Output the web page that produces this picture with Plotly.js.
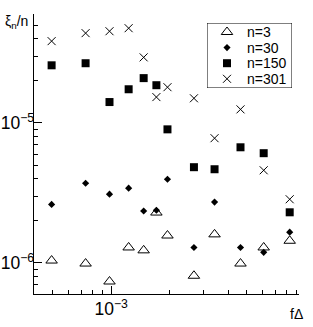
<!DOCTYPE html>
<html><head><meta charset="utf-8">
<script src="https://cdn.plot.ly/plotly-3.0.1.min.js"></script>
<style>body{margin:0;background:#fff}</style>
</head><body><div id="chart" style="width:313px;height:327px"></div>
<script>
// ---- data ----
const fDelta = [4.93e-4, 7.38e-4, 9.8e-4, 1.23e-3, 1.47e-3, 1.71e-3, 1.95e-3, 2.67e-3, 3.41e-3, 4.64e-3, 6.11e-3, 8.32e-3];
const xiN3   = [1.04e-6, 0.99e-6, 7.37e-7, 1.29e-6, 1.23e-6, 2.29e-6, 1.57e-6, 8.1e-7, 1.60e-6, 0.99e-6, 1.29e-6, 1.44e-6];
const xiN30  = [2.62e-6, 3.71e-6, 3.10e-6, 3.42e-6, 2.35e-6, 2.38e-6, 3.96e-6, 1.29e-6, 2.72e-6, 1.29e-6, 1.19e-6, 1.66e-6];
const xiN150 = [2.58e-5, 2.67e-5, 1.41e-5, 1.74e-5, 2.09e-5, 1.86e-5, 9.0e-6, 4.83e-6, 4.67e-6, 6.70e-6, 6.08e-6, 2.30e-6];
const xiN301 = [3.84e-5, 4.38e-5, 4.52e-5, 4.75e-5, 2.94e-5, 1.53e-5, 1.80e-5, 1.50e-5, 7.78e-6, 1.25e-5, 4.59e-6, 2.85e-6];
const seriesNames = ['n=3', 'n=30', 'n=150', 'n=301'];
const xTitle = 'f\u0394';
const yTitle = '\u03BE<sub>n</sub>/n';

// ---- styling ----
const series = [xiN3, xiN30, xiN150, xiN301];
const symbols = ['triangle-up-open', 'diamond', 'square', 'x-thin-open'];
const sizes = [10, 5.5, 8, 8];
const lineW = [1, 0, 0, 1];
const FONT = 'Liberation Sans, Arial, sans-serif';

const traces = [];
series.forEach((ys, i) => {
  const marker = {symbol: symbols[i], size: sizes[i], color: 'black', line: {color: 'black', width: lineW[i]}};
  traces.push({x: fDelta, y: ys, type: 'scatter', mode: 'markers', name: seriesNames[i],
    marker: marker, showlegend: false, cliponaxis: false});
  // legend symbol drawn on a helper subplot
  traces.push({x: [20], y: [9 + i * 15.6], xaxis: 'x2', yaxis: 'y2', type: 'scatter', mode: 'markers',
    marker: marker, showlegend: false, hoverinfo: 'skip'});
});

const L = 34, R = 14, T = 14, B = 33;
const W = 313 - L - R, H = 327 - T - B;
const px2fx = p => (p - L) / W;
const py2fy = p => (327 - B - p) / H;

const axisCommon = {
  type: 'log', showline: true, linecolor: 'black', linewidth: 1, mirror: false,
  ticks: 'inside', ticklen: 8, tickwidth: 1, tickcolor: 'black', dtick: 1,
  exponentformat: 'power', showgrid: false, zeroline: false,
  tickfont: {family: FONT, size: 14, color: 'black'},
  minor: {ticks: 'inside', ticklen: 4, tickwidth: 1, tickcolor: 'black', dtick: 'D1', showgrid: false}
};

const annotations = seriesNames.map((s, i) => ({
  xref: 'x2', yref: 'y2', x: 38, y: 9 + i * 15.6, text: s, showarrow: false,
  xanchor: 'left', yanchor: 'middle', font: {family: FONT, size: 14, color: 'black'}
}));
annotations.push({xref: 'paper', yref: 'paper', x: px2fx(3), y: py2fy(11), text: yTitle, showarrow: false,
  xanchor: 'left', yanchor: 'top', font: {family: FONT, size: 14, color: 'black'}});
annotations.push({xref: 'paper', yref: 'paper', x: px2fx(296), y: py2fy(304), text: xTitle, showarrow: false,
  xanchor: 'center', yanchor: 'top', font: {family: FONT, size: 14, color: 'black'}});

const layout = {
  width: 313, height: 327,
  margin: {l: L, r: R, t: T, b: B, pad: 0},
  paper_bgcolor: 'white', plot_bgcolor: 'white',
  font: {family: FONT, size: 14, color: 'black'},
  showlegend: false,
  xaxis: Object.assign({}, axisCommon, {range: [Math.log10(4e-4), Math.log10(4e-4) + W / 194]}),
  yaxis: Object.assign({}, axisCommon, {range: [Math.log10(6e-7), Math.log10(6e-5)], ticklabelstandoff: -4}),
  xaxis2: {domain: [px2fx(207), px2fx(292)], range: [0, 85], anchor: 'y2', visible: false, fixedrange: true},
  yaxis2: {domain: [py2fy(88), py2fy(23)], range: [65, 0], anchor: 'x2', visible: false, fixedrange: true},
  shapes: [{type: 'rect', xref: 'x2', yref: 'y2', x0: 0, x1: 85, y0: 0, y1: 65,
    line: {color: 'black', width: 1}, fillcolor: 'white', layer: 'below'}],
  annotations: annotations
};

Plotly.newPlot('chart', traces, layout, {staticPlot: true, displayModeBar: false});
</script>
</body></html>
